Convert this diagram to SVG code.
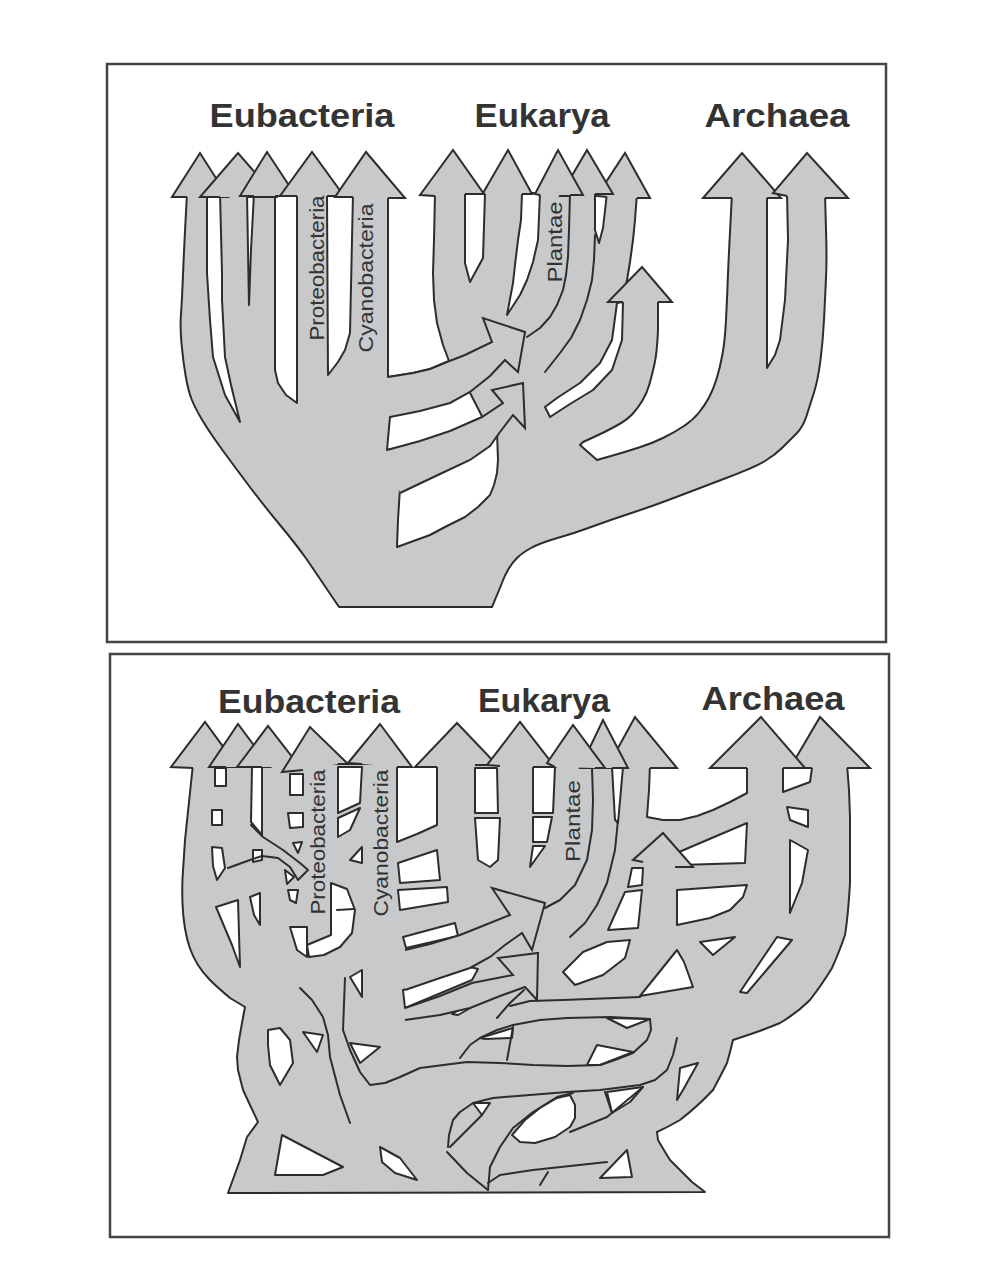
<svg xmlns="http://www.w3.org/2000/svg" width="992" height="1286" viewBox="0 0 992 1286">
<style>
.g{fill:#c8c9cb;stroke:#2d2d2d;stroke-width:2;stroke-linejoin:round}
.hd{fill:#c8c9cb;stroke:#2d2d2d;stroke-width:2;stroke-linejoin:miter;stroke-miterlimit:8}
.w{fill:#fff;stroke:#2d2d2d;stroke-width:2;stroke-linejoin:round}
.n{fill:none;stroke:#2d2d2d;stroke-width:2;stroke-linecap:round;stroke-linejoin:round}
.fr{fill:none;stroke:#444;stroke-width:2.5}
.lab{font-family:"Liberation Sans",Arial,sans-serif;font-weight:bold;font-size:34px;fill:#333;text-anchor:middle}
.sm{font-family:"Liberation Sans",Arial,sans-serif;font-size:20px;fill:#333;text-anchor:middle}
</style>
<rect width="992" height="1286" fill="#fff"/>

<g id="top-panel">
<rect class="fr" x="107" y="64" width="779" height="578"/>
<g id="top-tree">
<path class="g" d="M339,607 L306.5,559 Q295,543 280,525 Q265,507 251,488.5 Q237,470 223.5,451.5 Q210,433 202.5,420.5 Q195,408 191.5,399 Q188,390 185.5,375 Q183,360 181.5,343.5 Q180,327 181,313.5 Q182,300 183,275 Q184,250 185.5,221.5 L187,193 L388,193 L388,377 L413,373 L430,369 L449,361 L443,345 L437,323 L434,300 L433,273 L434,240 L435,193 L637,193 L635,220 L633,240 L630,262 L627,280 L624,292 L658,292 L658,330 Q657,353 654.5,364 Q652,375 649.5,384 Q647,393 642.5,400.5 Q638,408 632.5,414 Q627,420 616,426 Q605,432 594,437 L583,442 L580,445 L597,460 L611,456 Q625,452 639,447.5 Q653,443 664,437.5 Q675,432 684,426 Q693,420 699,412.5 Q705,405 709,397.5 Q713,390 716.5,379 Q720,368 722.5,354 Q725,340 726,320 Q727,300 727.5,286.5 Q728,273 729,251.5 L732,193 L825,193 L826,230 Q827,257 826,278.5 Q825,300 824,320 Q823,340 820.5,360 Q818,380 814,392.5 Q810,405 806.5,416 Q803,427 796.5,433.5 Q790,440 782.5,447.5 Q775,455 765,461 Q755,467 727.5,477.5 Q700,488 675,497.5 Q650,507 630,513.5 Q610,520 592.5,526.5 Q575,533 557.5,538 Q540,543 531,548 Q522,553 517,558 Q512,563 508.5,569 Q505,575 502.5,581.5 Q500,588 492,607 Z"/>
<g id="top-gaps">
<path class="w" d="M207,193 L207,273 L210,320 L213,357 L225,395 L240,422 L231,385 L225,357 L222,300 L222,273 L220,193 Z"/>
<path class="w" d="M247,193 L248,250 L249,305 L251,250 L254,193 Z"/>
<path class="w" d="M275,193 L275,370 L278,383 L286,395 L297,403 L297,193 Z"/>
<path class="w" d="M327,193 L328,375 L338,362 L345,350 L350,333 L353,193 Z"/>
<path class="w" d="M465,193 L465,263 L470,282 L483,258 L485,193 Z"/>
<path class="w" d="M522,193 L521,220 L518,240 L515,265 L513,283 L507,315 L520,295 L527,280 L533,262 L538,240 L540,193 Z"/>
<path class="w" d="M595,193 L595,230 L599,243 L603,228 L607,193 Z"/>
<path class="w" d="M767,193 L767,368 L775,355 L780,340 L785,300 L788,240 L787,193 Z"/>
<path class="w" d="M390,417 L466,385 L488,428 L387,450 Z"/>
<path class="w" d="M400,488 L497,432 L498,460 L497,473 L494,485 L490,495 L478,507 L465,517 L445,527 L430,535 L397,547 L398,520 Z"/>
<path class="w" d="M617,303 L612,340 L600,363 L580,383 L557,398 L545,407 L550,417 L570,404 L593,390 L612,370 L622,340 L623,302 Z"/>
</g>
<g id="top-lines">
<path class="n" d="M570,193 L569,230 L568,257 L566,275 L563,290 L557,305 L550,317 L540,328 L527,337"/>
<path class="n" d="M595,235 L594,260 L592,280 L587,300 L580,320 L571,338 L560,353 L545,372"/>
</g>
<g id="top-transfer-arrows">
<path class="hd" d="M388,377 L413,373 L430,369 L447,362 L465,355 L492,342 L483,318 L525,332 L518,372 L505,360 L490,376 L470,392 L450,403 L420,411 L390,417"/>
<path class="hd" d="M387,450 L420,441 L450,431 L482,417 L503,403 L492,390 L523,383 L525,428 L513,415 L500,432 L490,446 L470,460 L440,474 L400,493"/>
<path class="hd" d="M623,302 L608,302 L642,267 L672,302 L658,302"/>
</g>
<g id="top-heads">
<path class="hd" d="M187,197 L172,197 L200,153 L228,197 L207,197"/>
<path class="hd" d="M220,197 L200,197 L238,153 L276,197 L247,197"/>
<path class="hd" d="M254,196 L240,196 L267,152 L296,196 L275,196"/>
<path class="hd" d="M297,196 L280,196 L312,152 L344,196 L327,196"/>
<path class="hd" d="M353,197 L335,197 L366,152 L405,198 L388,198"/>
<path class="hd" d="M435,196 L420,195 L453,150 L484,194 L465,194"/>
<path class="hd" d="M485,194 L483,193 L508,150 L532,194 L522,194"/>
<path class="hd" d="M607,197 L597,196 L625,153 L650,198 L637,198"/>
<path class="hd" d="M570,196 L560,196 L587,150 L613,194 L595,194"/>
<path class="hd" d="M540,195 L535,194 L558,150 L583,195 L570,195"/>
<path class="hd" d="M732,198 L703,198 L742,153 L781,198 L767,198"/>
<path class="hd" d="M787,196 L773,193 L807,153 L848,198 L825,198"/>
</g>
<g id="top-branch-labels">
<text class="sm" transform="translate(324,268) rotate(-90)" textLength="145" lengthAdjust="spacingAndGlyphs">Proteobacteria</text>
<text class="sm" transform="translate(373,278) rotate(-90)" textLength="149" lengthAdjust="spacingAndGlyphs">Cyanobacteria</text>
<text class="sm" transform="translate(562,242) rotate(-90)" textLength="81" lengthAdjust="spacingAndGlyphs">Plantae</text>
</g>
</g>
<g id="top-labels">
<text class="lab" x="302" y="127" textLength="185" lengthAdjust="spacingAndGlyphs">Eubacteria</text>
<text class="lab" x="542" y="127" textLength="135" lengthAdjust="spacingAndGlyphs">Eukarya</text>
<text class="lab" x="777" y="127" textLength="145" lengthAdjust="spacingAndGlyphs">Archaea</text>
</g>
</g>

<g id="bottom-panel">
<rect class="fr" x="110" y="654" width="779" height="583"/>
<g id="bottom-tree">
<path class="g" d="M228,1193 L240,1160 L247,1137 L258,1122 L250,1105 L243,1090 L238,1070 L237,1057 L239,1040 L242,1023 L245,1007 L230,998 Q217,987 210,980 Q203,973 198,965 Q193,957 190,948.5 Q187,940 185,928.5 Q183,917 182.5,903.5 Q182,890 182.5,878.5 L185,840 L193,764 L397,764 L397,842 L417,834 L437,825 L437,764 L650,764 L649,790 L647,817 L663,820 L680,820 L697,816 L713,810 L730,802 L747,793 L747,764 L847,764 L849,790 L850,817 L850,883 Q848,917 845,935 Q840,950 832,968 Q823,983 810,1000 Q797,1013 780,1023 Q763,1030 748,1035 L733,1040 L730,1052 L727,1063 Q720,1077 713,1090 Q698,1106 680,1120 Q668,1127 657,1132 L658,1140 Q662,1147 670,1160 Q680,1170 692,1182 L705,1192 Z"/>
<g id="bottom-gaps">
<path class="w" d="M215,768 L226,768 L226,786 L215,786 Z"/>
<path class="w" d="M212,810 L222,810 L222,825 L212,825 Z"/>
<path class="w" d="M212,847 L222,848 L225,868 L217,880 L213,866 Z"/>
<path class="w" d="M252,767 L262,767 L262,835 L251,822 Z"/>
<path class="w" d="M253,850 L262,850 L262,860 L253,862 Z"/>
<path class="w" d="M290,774 L303,774 L303,795 L290,795 Z"/>
<path class="w" d="M288,813 L303,813 L303,827 L290,828 Z"/>
<path class="w" d="M293,843 L302,842 L298,853 Z"/>
<path class="w" d="M285,870 L294,877 L287,884 Z"/>
<path class="w" d="M288,890 L298,890 L296,903 L290,900 Z"/>
<path class="w" d="M290,927 L307,927 L307,957 L297,950 Z"/>
<path class="w" d="M216,907 L238,900 L240,967 L232,945 Z"/>
<path class="w" d="M250,897 L260,893 L260,925 L254,915 Z"/>
<path class="w" d="M331,883 L347,889 L355,910 L352,933 L340,947 L324,955 L309,957 L307,945 L331,935 Z"/>
<path class="w" d="M338,767 L362,767 L360,803 L338,813 Z"/>
<path class="w" d="M338,818 L360,808 L350,830 L338,837 Z"/>
<path class="w" d="M350,860 L362,847 L362,863 Z"/>
<path class="w" d="M398,863 L437,850 L440,880 L400,883 Z"/>
<path class="w" d="M398,890 L447,887 L448,902 L400,910 Z"/>
<path class="w" d="M403,937 L455,923 L458,936 L406,948 Z"/>
<path class="w" d="M403,990 L470,967 L478,969 L472,980 L405,1008 Z"/>
<path class="w" d="M452,1014 L493,991 L497,993 L458,1015 Z"/>
<path class="w" d="M475,768 L497,768 L498,813 L475,813 Z"/>
<path class="w" d="M475,818 L500,818 L498,860 L490,867 L478,860 Z"/>
<path class="w" d="M533,767 L555,767 L553,813 L533,813 Z"/>
<path class="w" d="M533,817 L552,817 L547,842 L533,842 Z"/>
<path class="w" d="M533,846 L545,846 L530,867 Z"/>
<path class="w" d="M612,767 L623,767 L618,823 L615,820 Z"/>
<path class="w" d="M672,855 L747,823 L745,863 L680,865 Z"/>
<path class="w" d="M677,890 L747,885 L743,897 L730,910 L710,918 L677,925 Z"/>
<path class="w" d="M700,942 L735,937 L713,955 Z"/>
<path class="w" d="M777,937 L792,940 L747,993 L740,992 Z"/>
<path class="w" d="M783,768 L812,768 L810,782 L783,792 Z"/>
<path class="w" d="M787,807 L808,810 L808,827 L790,820 Z"/>
<path class="w" d="M790,840 L808,850 L802,883 L790,913 Z"/>
<path class="w" d="M632,868 L643,868 L642,885 L628,887 Z"/>
<path class="w" d="M625,892 L642,890 L638,928 L608,930 Z"/>
<path class="w" d="M563,972 L583,952 L607,942 L630,940 L625,958 L603,975 L575,985 Z"/>
<path class="w" d="M640,996 L677,950 L684,962 L693,987 Z"/>
<path class="w" d="M268,1030 L280,1028 L290,1040 L293,1063 L280,1085 L270,1065 L268,1045 Z"/>
<path class="w" d="M303,1032 L323,1035 L317,1052 Z"/>
<path class="w" d="M282,1135 L343,1167 L323,1175 L275,1175 Z"/>
<path class="w" d="M380,1147 L400,1158 L417,1180 L395,1173 L382,1162 Z"/>
<path class="w" d="M350,977 L362,970 L362,997 Z"/>
<path class="w" d="M350,1043 L380,1047 L360,1063 Z"/>
<path class="w" d="M480,1038 L513,1028 L512,1038 L485,1039 Z"/>
<path class="w" d="M607,1018 L650,1019 L627,1028 Z"/>
<path class="w" d="M597,1045 L633,1052 L600,1065 L587,1065 Z"/>
<path class="w" d="M473,1103 L490,1103 L482,1115 Z"/>
<path class="w" d="M512,1135 L525,1120 L540,1108 L557,1098 L570,1095 L575,1105 L575,1118 L570,1127 L555,1137 L535,1143 L520,1142 Z"/>
<path class="w" d="M607,1092 L643,1087 L630,1102 L612,1113 Z"/>
<path class="w" d="M677,1100 L680,1068 L698,1063 L683,1090 Z"/>
<path class="w" d="M600,1178 L627,1150 L632,1177 Z"/>
</g>
<g id="bottom-lines">
<path class="n" d="M592,768 L593,800 L592,830 L587,860 L575,885 L560,900 L545,908"/>
<path class="n" d="M618,820 L615,850 L607,883 L597,905 L585,923 L570,937"/>
<path class="n" d="M251,825 L263,837 L283,850 L300,863 L308,870 L298,880 L290,867 L278,858 L262,856 L250,860 L228,868"/>
<path class="n" d="M337,910 L354,909"/>
<path class="n" d="M300,988 L312,1000 L323,1017 L328,1035 L330,1057 L340,1095 L350,1123"/>
<path class="n" d="M345,978 L343,1030 L350,1050 L360,1072 L370,1085 L385,1083 L400,1077 L420,1068 L467,1062 L500,1063 L533,1065 L567,1066 L600,1065 L615,1060 L633,1053 L647,1040 L651,1030 L650,1019 L610,1017 L567,1018 L540,1020 L513,1025 L497,1030 L480,1038 L470,1045 L460,1058"/>
<path class="n" d="M513,1027 L507,1060"/>
<path class="n" d="M524,990 L510,1003 L497,1018"/>
<path class="n" d="M510,1006 L530,1001 L563,1000 L640,997"/>
<path class="n" d="M677,1038 L673,1055 L667,1070 L655,1080 L640,1085 L600,1090 L567,1092 L530,1095 L493,1098 L473,1103 L460,1112 L453,1120 L449,1135 L448,1147"/>
<path class="n" d="M482,1115 L450,1147"/>
<path class="n" d="M447,1152 L467,1173 L488,1190"/>
<path class="n" d="M488,1190 L490,1167 L500,1147 L513,1128 L533,1112 L557,1097 L573,1093"/>
<path class="n" d="M570,1132 L607,1117 L643,1087"/>
<path class="n" d="M605,1092 L612,1113"/>
<path class="n" d="M488,1183 L500,1175 L533,1170 L607,1162"/>
<path class="n" d="M540,1185 L548,1172"/>
</g>
<g id="bottom-transfer-arrows">
<path class="hd" d="M405,950 L430,944 L460,935 L485,925 L510,915 L492,888 L545,903 L532,950 L522,933 L505,945 L490,957 L470,968 L440,978 L405,990"/>
<path class="hd" d="M405,1008 L440,996 L472,983 L513,975 L498,958 L538,953 L537,1000 L525,987 L500,996 L470,1008 L440,1015 L405,1020"/>
<path class="hd" d="M643,862 L633,860 L663,833 L693,867 L675,867"/>
</g>
<g id="bottom-heads">
<path class="hd" d="M193,768 L171,767 L205,722 L238,767 L215,767"/>
<path class="hd" d="M226,767 L209,767 L238,724 L270,767 L252,767"/>
<path class="hd" d="M262,767 L237,767 L268,726 L300,767 L290,767"/>
<path class="hd" d="M303,770 L282,772 L310,727 L348,764 L338,764"/>
<path class="hd" d="M362,764 L348,763 L380,724 L412,767 L397,767"/>
<path class="hd" d="M437,767 L415,767 L457,723 L497,765 L475,765"/>
<path class="hd" d="M500,766 L487,765 L520,722 L555,767 L533,767"/>
<path class="hd" d="M623,768 L607,768 L635,717 L677,768 L650,768"/>
<path class="hd" d="M597,768 L580,768 L603,720 L628,768 L612,768"/>
<path class="hd" d="M555,767 L547,763 L573,725 L605,768 L595,768"/>
<path class="hd" d="M812,768 L790,768 L820,717 L870,768 L847,768"/>
<path class="hd" d="M747,768 L710,768 L761,717 L805,768 L783,768"/>
</g>
<g id="bottom-branch-labels">
<text class="sm" transform="translate(325,842) rotate(-90)" textLength="145" lengthAdjust="spacingAndGlyphs">Proteobacteria</text>
<text class="sm" transform="translate(388,843) rotate(-90)" textLength="147" lengthAdjust="spacingAndGlyphs">Cyanobacteria</text>
<text class="sm" transform="translate(580,821) rotate(-90)" textLength="82" lengthAdjust="spacingAndGlyphs">Plantae</text>
</g>
</g>
<g id="bottom-labels">
<text class="lab" x="309" y="713" textLength="182" lengthAdjust="spacingAndGlyphs">Eubacteria</text>
<text class="lab" x="544" y="712" textLength="132" lengthAdjust="spacingAndGlyphs">Eukarya</text>
<text class="lab" x="773" y="710" textLength="143" lengthAdjust="spacingAndGlyphs">Archaea</text>
</g>
</g>
</svg>
